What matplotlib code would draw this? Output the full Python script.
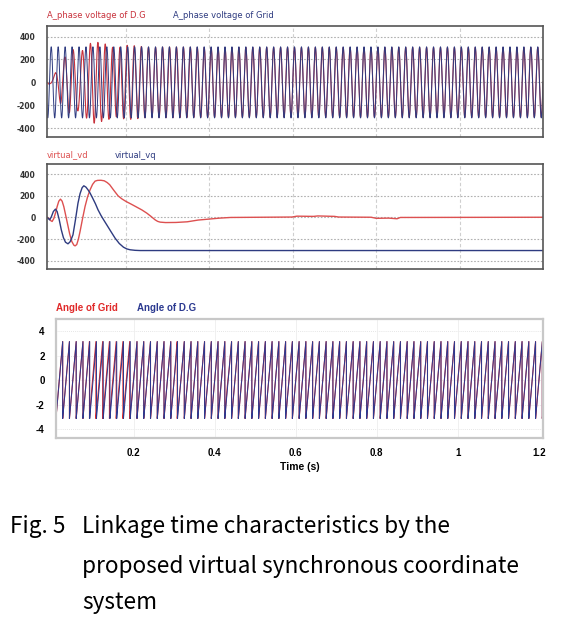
import numpy as np
import matplotlib
matplotlib.use("Agg")
import matplotlib.pyplot as plt

# ---------------- data ----------------
grid_freq = 60.0          # Hz
grid_amp = 311.0          # V peak of grid phase voltage

# virtual_vd (red) in the virtual synchronous frame
vd_t = [0.011, 0.015, 0.020, 0.023, 0.027, 0.031, 0.035, 0.039, 0.043, 0.047,
        0.051, 0.055, 0.060, 0.065, 0.070, 0.075, 0.078, 0.082, 0.086, 0.090,
        0.096, 0.102, 0.108, 0.114, 0.120, 0.126, 0.132, 0.140, 0.148, 0.155,
        0.161, 0.170, 0.181, 0.190, 0.200, 0.213, 0.226, 0.238, 0.250, 0.260,
        0.270, 0.276, 0.282, 0.295, 0.320, 0.347, 0.373, 0.399, 0.425, 0.451,
        0.598, 0.610, 0.650, 0.660, 0.700, 0.710, 0.788, 0.800, 0.830, 0.850,
        0.858, 1.200]
vd_v = [0, -8, -30, -37, -10, 40, 100, 150, 169, 150,
        100, 30, -60, -150, -220, -255, -262, -250, -200, -129,
        -10, 102, 190, 255, 305, 335, 342, 343, 338, 322,
        302, 255, 200, 172, 148, 122, 95, 70, 40, 10,
        -22, -36, -43, -47, -46, -40, -24, -15, -6, 0,
        4, 12, 10, 14, 10, 4, 2, -8, -6, -12,
        0, 2]

# virtual_vq (blue)
vq_t = [0.011, 0.014, 0.017, 0.021, 0.026, 0.031, 0.035, 0.040, 0.045, 0.050,
        0.055, 0.061, 0.066, 0.070, 0.073, 0.079, 0.085, 0.090, 0.095, 0.099,
        0.104, 0.109, 0.114, 0.120, 0.127, 0.133, 0.140, 0.147, 0.154, 0.164,
        0.174, 0.184, 0.194, 0.202, 0.210, 0.222, 0.234, 1.200]
vq_v = [0, -10, -22, 5, 55, 77, 55, -20, -114, -185,
        -228, -243, -225, -190, -160, -20, 132, 220, 275, 292,
        280, 255, 225, 180, 125, 71, 20, -25, -68, -130,
        -191, -240, -274, -290, -298, -303, -305, -305]

# phase offset of the grid angle against the D.G angle (rad)
ang_t = [0.008, 0.088, 0.095, 0.190, 0.200, 0.300, 0.305, 0.315, 0.425, 0.430, 0.435, 1.21]
ang_d = [0.0, 0.0, 0.5, 0.5, 0.0, 0.0, 0.4, 0.0, 0.0, 0.4, 0.0, 0.0]

volt_ticks = [-400, -200, 0, 200, 400]
ang_ticks = [-4, -2, 0, 2, 4]
time_ticks = [0.2, 0.4, 0.6, 0.8, 1.0, 1.2]
time_labels = ["0.2", "0.4", "0.6", "0.8", "1", "1.2"]

# ---------------- derived waveforms ----------------
t = np.linspace(0.0, 1.21, 121001)
theta_g = 2 * np.pi * grid_freq * t
v_grid = grid_amp * np.sin(theta_g)
vd_d = np.interp(t, vd_t, vd_v)
vq_d = np.interp(t, vq_t, vq_v)
v_dg = vd_d * np.cos(theta_g) - vq_d * np.sin(theta_g)
v_dg[t < vd_t[0]] = 0.0


def wrap(a):
    return (a + np.pi) % (2 * np.pi) - np.pi


ang_dg = wrap(theta_g)
ang_grid = wrap(theta_g + np.interp(t, ang_t, ang_d))

# ---------------- figure ----------------
W, H = 563, 622
fig = plt.figure(figsize=(W / 100, H / 100), dpi=100)
fig.patch.set_facecolor("white")

RED1 = "#c8323c"
BLUE1 = "#2e3b80"
RED2 = "#dd5050"
BLUE2 = "#2e3b80"
RED3 = "#e02a2a"
BLUE3 = "#2b3990"


def fx(px):
    return px / W


def fy(py):
    return 1 - py / H


def style_psim(ax):
    ax.set_xlim(0.01, 1.2)
    ax.set_ylim(-478, 493)
    ax.set_yticks(volt_ticks)
    ax.set_yticklabels([str(v) for v in volt_ticks], fontsize=5.5,
                       color="#333333", fontweight="bold", family="DejaVu Sans")
    ax.set_xticks([])
    ax.tick_params(axis="y", length=0, pad=8)
    for v in volt_ticks:
        ax.axhline(v, color="#b0b0b0", lw=0.8, ls=(0, (1.5, 1.5)), zorder=0)
    for x in time_ticks[:-1]:
        ax.axvline(x, color="#cfcfcf", lw=0.8, ls=(0, (3, 2)), zorder=0)
    for s in ax.spines.values():
        s.set_color("#555555")
        s.set_linewidth(1.2)


# top panel
ax1 = fig.add_axes([fx(46.7), fy(137), fx(543 - 46.7), (137 - 26) / H])
style_psim(ax1)
ax1.plot(t, v_dg, color=RED1, lw=0.8)
ax1.plot(t, v_grid, color=BLUE1, lw=0.7)
fig.text(fx(47), fy(15), "A_phase voltage of D.G", color=RED1, fontsize=6,
         va="center", family="DejaVu Sans")
fig.text(fx(173), fy(15), "A_phase voltage of Grid", color=BLUE1, fontsize=6,
         va="center", family="DejaVu Sans")

# middle panel
ax2 = fig.add_axes([fx(46.7), fy(269.3), fx(543 - 46.7), (269.3 - 164) / H])
style_psim(ax2)
ax2.plot(vd_t, vd_v, color=RED2, lw=1.0)
ax2.plot(vq_t, vq_v, color=BLUE2, lw=1.0)
fig.text(fx(47), fy(155), "virtual_vd", color=RED2, fontsize=6,
         va="center", family="DejaVu Sans")
fig.text(fx(115), fy(155), "virtual_vq", color=BLUE2, fontsize=6,
         va="center", family="DejaVu Sans")

# bottom panel
ax3 = fig.add_axes([fx(55.8), fy(438), fx(543 - 55.8), (438 - 319) / H])
ax3.set_xlim(0.008, 1.21)
ax3.set_ylim(-4.73, 4.98)
ax3.plot(t, ang_grid, color=RED3, lw=0.8)
ax3.plot(t, ang_dg, color=BLUE3, lw=0.7)
ax3.set_yticks(ang_ticks)
ax3.set_yticklabels([str(v) for v in ang_ticks], fontsize=7, fontweight="bold",
                    family="Liberation Sans")
ax3.set_xticks(time_ticks)
ax3.set_xticklabels(time_labels, fontsize=7, fontweight="bold",
                    family="Liberation Sans")
ax3.tick_params(length=0, pad=8)
ax3.tick_params(axis="x", pad=7)
for v in ang_ticks:
    ax3.axhline(v, color="#dddddd", lw=0.6, ls=(0, (1, 1.5)), zorder=0)
for x in time_ticks[:-1]:
    ax3.axvline(x, color="#eeeeee", lw=0.6, zorder=0)
for s in ax3.spines.values():
    s.set_color("#c8c8c8")
    s.set_linewidth(1.6)
ax3.set_xlabel("Time (s)", fontsize=7.5, fontweight="bold",
               family="Liberation Sans", labelpad=3)
fig.text(fx(56), fy(308), "Angle of Grid", color=RED3, fontsize=7,
         fontweight="bold", va="center", family="Liberation Sans")
fig.text(fx(137), fy(308), "Angle of D.G", color=BLUE3, fontsize=7,
         fontweight="bold", va="center", family="Liberation Sans")

# caption
cap_font = ["Noto Sans CJK KR", "DejaVu Sans"]
cap_size = 16.3
fig.text(fx(10), fy(527), "Fig. 5", fontsize=cap_size, family=cap_font, va="center")
fig.text(fx(82), fy(527), "Linkage time characteristics by the",
         fontsize=cap_size, family=cap_font, va="center")
fig.text(fx(82), fy(566), "proposed virtual synchronous coordinate",
         fontsize=cap_size, family=cap_font, va="center")
fig.text(fx(82), fy(603), "system", fontsize=cap_size, family=cap_font, va="center")

fig.savefig("out.png", dpi=100)
